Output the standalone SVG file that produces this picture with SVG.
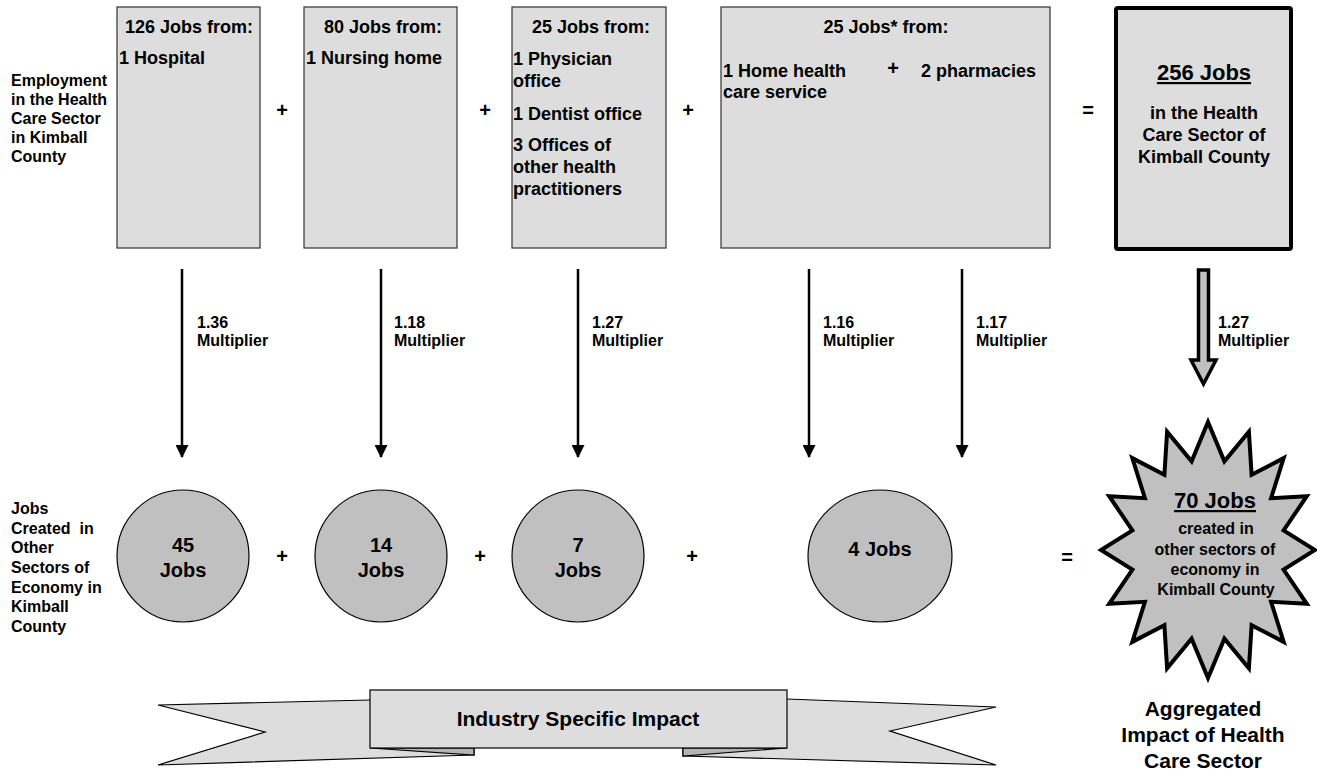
<svg xmlns="http://www.w3.org/2000/svg" width="1317" height="774" viewBox="0 0 1317 774">
<style>
text{font-family:"Liberation Sans",Arial,sans-serif;font-weight:bold;fill:#000}
.box{fill:#dddddd;stroke:#333;stroke-width:1.2}
.t18{font-size:18px}
.t16{font-size:16px}
.op{font-size:20px;text-anchor:middle}
.c{text-anchor:middle}
.circ{fill:#c0c0c0;stroke:#000;stroke-width:1.2}
.conn{stroke:#000;stroke-width:2.5;fill:none;marker-end:url(#ah)}
.rib{fill:#dddddd;stroke:#000;stroke-width:1.2;stroke-linejoin:miter}
.fold{fill:#b4b4b4;stroke:#000;stroke-width:1.2}
</style>
<defs>
<marker id="ah" markerUnits="userSpaceOnUse" markerWidth="13" markerHeight="13" refX="12" refY="6.5" orient="auto">
<path d="M0,0 L13,6.5 L0,13 z" fill="#000"/>
</marker>
</defs>
<rect width="1317" height="774" fill="#fff"/>

<g id="label-employment" class="t16">
<text x="11" y="86">Employment</text>
<text x="11" y="105">in the Health</text>
<text x="11" y="124">Care Sector</text>
<text x="11" y="143">in Kimball</text>
<text x="11" y="162">County</text>
</g>

<g id="box-hospital">
<rect class="box" x="117" y="7" width="143" height="241"/>
<text class="t18 c" x="189" y="33">126 Jobs from:</text>
<text class="t18" x="119" y="64">1 Hospital</text>
</g>
<g id="box-nursing">
<rect class="box" x="304" y="7" width="153" height="241"/>
<text class="t18 c" x="383" y="33">80 Jobs from:</text>
<text class="t18" x="306" y="64">1 Nursing home</text>
</g>
<g id="box-offices">
<rect class="box" x="512" y="7" width="154" height="241"/>
<text class="t18 c" x="591" y="33">25 Jobs from:</text>
<text class="t18" x="513" y="65">1 Physician</text>
<text class="t18" x="513" y="87">office</text>
<text class="t18" x="513" y="120">1 Dentist office</text>
<text class="t18" x="513" y="151">3 Offices of</text>
<text class="t18" x="513" y="173">other health</text>
<text class="t18" x="513" y="195">practitioners</text>
</g>
<g id="box-home">
<rect class="box" x="721" y="7" width="329" height="241"/>
<text class="t18 c" x="886" y="33">25 Jobs* from:</text>
<text class="t18" x="723" y="77">1 Home health</text>
<text class="t18" x="723" y="98">care service</text>
<text class="op" x="893" y="75">+</text>
<text class="t18" x="921" y="77">2 pharmacies</text>
</g>
<g id="box-total">
<rect x="1116" y="8" width="175" height="241" rx="2" fill="#dddddd" stroke="#000" stroke-width="4"/>
<text class="c" x="1204" y="80" font-size="22" text-decoration="underline">256 Jobs</text>
<text class="t18 c" x="1204" y="119">in the Health</text>
<text class="t18 c" x="1204" y="141">Care Sector of</text>
<text class="t18 c" x="1204" y="163">Kimball County</text>
</g>

<g id="ops-top">
<text class="op" x="282" y="117">+</text>
<text class="op" x="485" y="117">+</text>
<text class="op" x="688" y="117">+</text>
<text class="op" x="1088" y="117">=</text>
</g>

<g id="connectors">
<line class="conn" x1="182" y1="269" x2="182" y2="457"/>
<line class="conn" x1="381" y1="269" x2="381" y2="457"/>
<line class="conn" x1="578" y1="269" x2="578" y2="457"/>
<line class="conn" x1="809" y1="269" x2="809" y2="457"/>
<line class="conn" x1="962" y1="269" x2="962" y2="457"/>
<polygon points="1198.5,270 1208.5,270 1208.5,360 1216,360 1203.5,384 1191,360 1198.5,360" fill="#c0c0c0" stroke="#000" stroke-width="3.5" stroke-linejoin="miter"/>
</g>

<g id="multiplier-labels" class="t16">
<text x="197" y="328">1.36</text><text x="197" y="346">Multiplier</text>
<text x="394" y="328">1.18</text><text x="394" y="346">Multiplier</text>
<text x="592" y="328">1.27</text><text x="592" y="346">Multiplier</text>
<text x="823" y="328">1.16</text><text x="823" y="346">Multiplier</text>
<text x="976" y="328">1.17</text><text x="976" y="346">Multiplier</text>
<text x="1218" y="328">1.27</text><text x="1218" y="346">Multiplier</text>
</g>

<g id="label-created" class="t16">
<text x="11" y="514">Jobs</text>
<text x="11" y="534" xml:space="preserve">Created  in</text>
<text x="11" y="553">Other</text>
<text x="11" y="573">Sectors of</text>
<text x="11" y="593">Economy in</text>
<text x="11" y="612">Kimball</text>
<text x="11" y="632">County</text>
</g>

<g id="circle-45">
<circle class="circ" cx="183" cy="556" r="66"/>
<text class="c" x="183" y="552" font-size="20">45</text>
<text class="c" x="183" y="577" font-size="20">Jobs</text>
</g>
<g id="circle-14">
<circle class="circ" cx="381" cy="556" r="66"/>
<text class="c" x="381" y="552" font-size="20">14</text>
<text class="c" x="381" y="577" font-size="20">Jobs</text>
</g>
<g id="circle-7">
<circle class="circ" cx="578" cy="556" r="66"/>
<text class="c" x="578" y="552" font-size="20">7</text>
<text class="c" x="578" y="577" font-size="20">Jobs</text>
</g>
<g id="circle-4">
<ellipse class="circ" cx="880" cy="556" rx="72" ry="66"/>
<text class="c" x="880" y="556" font-size="20">4 Jobs</text>
</g>

<g id="ops-bottom">
<text class="op" x="282" y="563">+</text>
<text class="op" x="480" y="563">+</text>
<text class="op" x="692" y="563">+</text>
<text class="op" x="1067" y="564">=</text>
</g>

<g id="starburst">
<polygon points="1208.0,422.0 1224.4,461.3 1248.9,431.7 1251.6,474.7 1283.7,458.1 1271.1,498.2 1306.8,496.2 1283.6,530.4 1315.0,550.0 1283.6,569.6 1306.8,603.8 1271.1,601.8 1283.7,641.9 1251.6,625.3 1248.9,668.3 1224.4,638.7 1208.0,678.0 1191.6,638.7 1167.1,668.3 1164.4,625.3 1132.3,641.9 1144.9,601.8 1109.2,603.8 1132.4,569.6 1101.0,550.0 1132.4,530.4 1109.2,496.2 1144.9,498.2 1132.3,458.1 1164.4,474.7 1167.1,431.7 1191.6,461.3" fill="#c0c0c0" stroke="#000" stroke-width="4" stroke-linejoin="miter"/>
<text class="c" x="1215" y="508" font-size="22" text-decoration="underline">70 Jobs</text>
<text class="c t16" x="1216" y="534">created in</text>
<text class="c t16" x="1215" y="555">other sectors of</text>
<text class="c t16" x="1215" y="575">economy in</text>
<text class="c t16" x="1216" y="595">Kimball County</text>
</g>

<g id="label-aggregated" font-size="21">
<text class="c" x="1203" y="716">Aggregated</text>
<text class="c" x="1203" y="742">Impact of Health</text>
<text class="c" x="1203" y="768">Care Sector</text>
</g>

<g id="ribbon">
<polygon class="rib" points="474,755 158,765 265,732 158,705 370,700 474,700"/>
<polygon class="rib" points="683,756 996,765 890,731 996,707 787,699 683,699"/>
<polygon class="fold" points="370,748 474,748 474,755"/>
<polygon class="fold" points="683,748 787,748 683,756"/>
<rect class="rib" x="370" y="690" width="417" height="58"/>
<text class="c" x="578" y="726" font-size="21">Industry Specific Impact</text>
</g>
</svg>
